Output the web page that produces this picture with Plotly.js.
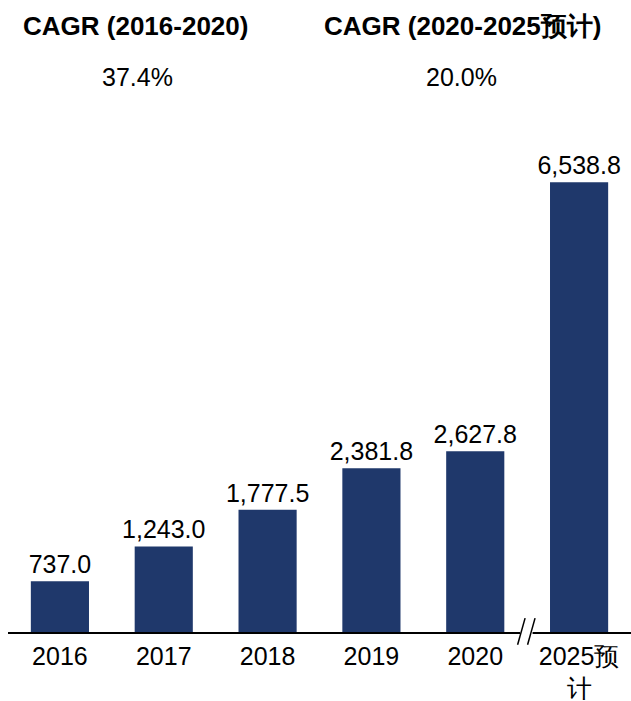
<!DOCTYPE html>
<html><head><meta charset="utf-8">
<script src="https://cdn.plot.ly/plotly-3.0.1.min.js"></script>
<style>html,body{margin:0;padding:0;background:#fff}#chart{width:631px;height:701px}</style>
</head><body><div id="chart"></div>
<script>
const categories = ["2016", "2017", "2018", "2019", "2020", "2025预计"];
const tickLabels = ["2016", "2017", "2018", "2019", "2020", "2025预<br>计"];
const values = [737.0, 1243.0, 1777.5, 2381.8, 2627.8, 6538.8];
const cagrTitles = ["CAGR (2016-2020)", "CAGR (2020-2025预计)"];
const cagrValues = ["37.4%", "20.0%"];

const font = "Liberation Sans, Arial, sans-serif";
const trace = {
  type: "bar", x: categories, y: values,
  marker: {color: "#1F386B"},
  texttemplate: "%{y:,.1f}", textposition: "outside", constraintext: "none",
  textfont: {family: font, size: 25, color: "#000"},
  cliponaxis: false, hoverinfo: "skip"
};
const layout = {
  width: 631, height: 701,
  margin: {l: 8, r: 0, t: 100, b: 69},
  paper_bgcolor: "#fff", plot_bgcolor: "#fff",
  bargap: 0.44, showlegend: false,
  xaxis: {type: "category", tickvals: categories, ticktext: tickLabels,
    showline: true, linecolor: "#000", linewidth: 1.5, ticks: "", ticklabelstandoff: 1,
    showgrid: false, tickfont: {family: font, size: 25, color: "#000"}},
  yaxis: {range: [0, 7733], visible: false, showgrid: false, zeroline: false},
  annotations: [
    {text: "<b>" + cagrTitles[0] + "</b>", xref: "paper", yref: "paper", x: 0.205, y: 1.14, xanchor: "center", yanchor: "middle", showarrow: false, font: {family: font, size: 26, color: "#000"}},
    {text: "<b>" + cagrTitles[1] + "</b>", xref: "paper", yref: "paper", x: 0.73, y: 1.14, xanchor: "center", yanchor: "middle", showarrow: false, font: {family: font, size: 26, color: "#000"}},
    {text: cagrValues[0], xref: "paper", yref: "paper", x: 0.208, y: 1.043, xanchor: "center", yanchor: "middle", showarrow: false, font: {family: font, size: 25, color: "#000"}},
    {text: cagrValues[1], xref: "paper", yref: "paper", x: 0.728, y: 1.043, xanchor: "center", yanchor: "middle", showarrow: false, font: {family: font, size: 25, color: "#000"}}
  ],
  shapes: [
    {type: "rect", xref: "paper", yref: "paper", x0: 0.822, x1: 0.842, y0: -0.01, y1: 0.01, fillcolor: "#fff", line: {width: 0}},
    {type: "line", xref: "paper", yref: "paper", x0: 0.818, x1: 0.83, y0: -0.024, y1: 0.026, line: {color: "#000", width: 1.5}},
    {type: "line", xref: "paper", yref: "paper", x0: 0.834, x1: 0.846, y0: -0.024, y1: 0.026, line: {color: "#000", width: 1.5}}
  ]
};
Plotly.newPlot("chart", [trace], layout, {staticPlot: true, displayModeBar: false});
</script></body></html>
